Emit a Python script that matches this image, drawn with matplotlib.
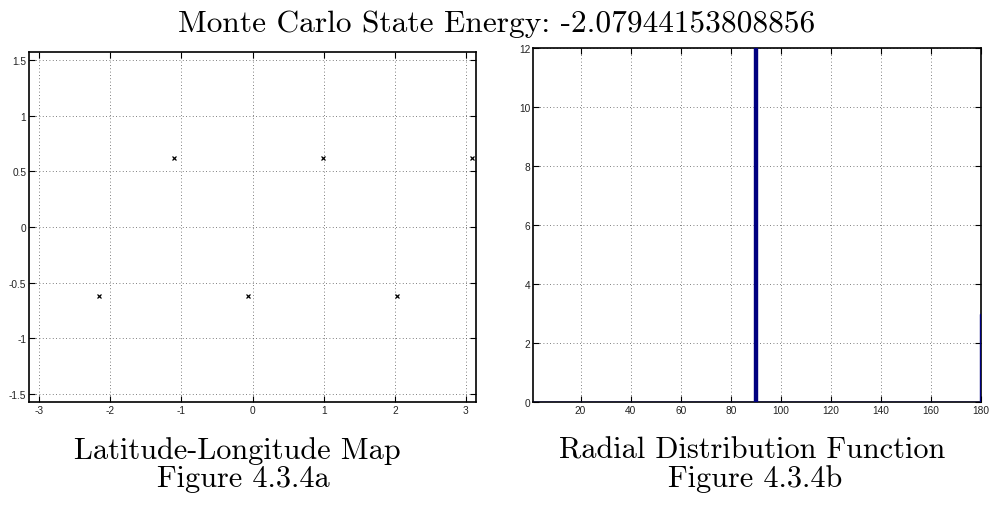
import numpy as np
import matplotlib.pyplot as plt

plt.rcParams['axes.unicode_minus'] = False

# octahedron configuration: longitude / latitude of the 6 points (rad)
lon = [-2.153, -1.106, -0.059, 0.988, 2.035, 3.082]
lat = [-0.6155, 0.6155, -0.6155, 0.6155, -0.6155, 0.6155]

# radial distribution: pair counts per degree
rdf_angles = [90, 180]
rdf_counts = [12, 3]

energy = '-2.07944153808856'

deg = np.arange(1, 181)
counts = np.zeros(180)
for a, c in zip(rdf_angles, rdf_counts):
    counts[a - 1] = c

fig = plt.figure(figsize=(9.9, 5.06), dpi=100)
W, H = 990.0, 506.0
ax1 = fig.add_axes([29 / W, 1 - 403 / H, 447 / W, 350 / H])
ax2 = fig.add_axes([533 / W, 1 - 403 / H, 448 / W, 354 / H])

tickfont = {'family': 'Liberation Sans', 'size': 7.3, 'color': '#222222'}

ax1.plot(lon, lat, 'kx', markersize=3.5, markeredgewidth=0.9)
ax1.set_xlim(-np.pi, np.pi)
ax1.set_ylim(-np.pi / 2, np.pi / 2)
ax1.set_xticks([-3, -2, -1, 0, 1, 2, 3])
ax1.set_xticklabels(['-3', '-2', '-1', '0', '1', '2', '3'], **tickfont)
ax1.set_yticks([-1.5, -1, -0.5, 0, 0.5, 1, 1.5])
ax1.set_yticklabels(['-1.5', '-1', '-0.5', '0', '0.5', '1', '1.5'], **tickfont)

# bars drawn above the frame so the edge bar at 180 and the zero line show
ax2.bar(deg, counts, width=1.0, color='#000080', edgecolor='#000080',
        linewidth=1.0, zorder=3)
ax2.set_xlim(1, 180)
ax2.set_ylim(0, 12)
ax2.set_xticks(range(20, 181, 20))
ax2.set_xticklabels([str(v) for v in range(20, 181, 20)], **tickfont)
ax2.set_yticks(range(0, 13, 2))
ax2.set_yticklabels([str(v) for v in range(0, 13, 2)], **tickfont)

for ax in (ax1, ax2):
    ax.grid(True, linestyle=(0, (1, 3)), color='#555555', linewidth=0.6)
    ax.tick_params(direction='in', top=True, right=True, length=4, width=0.8, pad=2)
    for s in ax.spines.values():
        s.set_linewidth(1.2)

fig.text(497 / W, 1 - 32 / H, 'Monte Carlo State Energy: ' + energy,
         ha='center', va='baseline', family='cmr10', size=22.6)
serif = {'family': 'cmr10', 'size': 21.8}
fig.text(237 / W, 1 - 459 / H, 'Latitude-Longitude Map', ha='center', va='baseline', **serif)
fig.text(243 / W, 1 - 487 / H, 'Figure 4.3.4a', ha='center', va='baseline', **serif)
fig.text(752 / W, 1 - 459 / H, 'Radial Distribution Function', ha='center', va='baseline', **serif)
fig.text(755 / W, 1 - 487 / H, 'Figure 4.3.4b', ha='center', va='baseline', **serif)

fig.savefig('out.png', dpi=100)
